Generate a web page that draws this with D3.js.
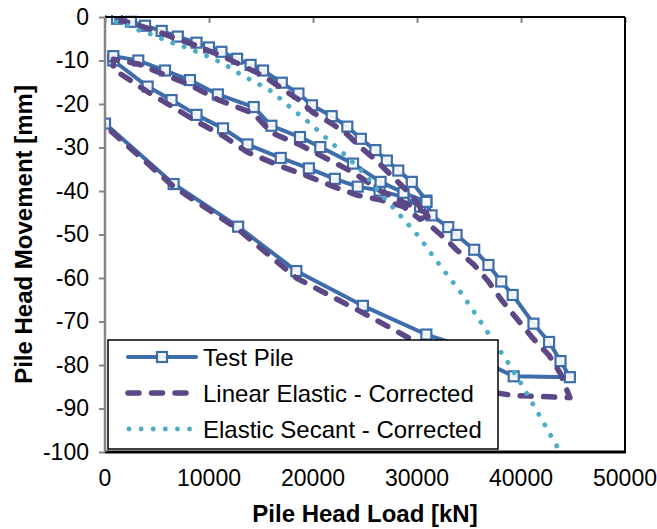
<!DOCTYPE html>
<html>
<head>
<meta charset="utf-8">
<script src="https://cdn.jsdelivr.net/npm/d3@7"></script>
<style>
  body { margin: 0; background: #fff; }
  text { font-family: 'Liberation Sans', Arial, sans-serif; fill: #000; }
</style>
</head>
<body>
<svg id="chart" width="657" height="529"></svg>
<script>
// test pile: load cycle 1, unload, reload, load to max, final unload
const testLoad = [
  1150, 2500, 3850, 5450, 7000, 8800, 10000, 11200, 12700, 14000, 15200, 17000,
  18600, 19900, 21800, 23300, 24600, 26000, 27100, 28200, 29500, 30900,
  30300, 28700, 26400, 24300, 22100, 19600, 16900, 13700, 11350, 8800, 6400, 4100, 800,
  800, 3200, 5770, 8170, 10850, 14300, 16000, 18750, 20700, 23850, 26500, 28700, 30900,
  31400, 33000, 33800, 35500, 36870, 38100, 39200, 41200, 42700, 43800, 44700,
  39300, 37200, 35800, 30900, 24800, 18400, 12800, 6600, 0
]
const testDisp = [
  -0.4, -1.1, -2.0, -3.2, -4.5, -5.9, -7.0, -8.0, -9.6, -11.0, -12.3, -15.1,
  -17.6, -20.3, -22.8, -25.2, -28.0, -30.6, -33.0, -35.3, -37.9, -42.2,
  -43.6, -41.4, -39.9, -39.0, -37.2, -34.8, -32.4, -29.3, -25.6, -22.5, -19.1, -16.0, -10.0,
  -9.0, -10.0, -12.3, -14.5, -17.8, -20.7, -25.0, -27.6, -29.9, -33.7, -37.9, -40.4, -42.5,
  -45.6, -48.3, -50.1, -53.5, -57.0, -60.8, -63.9, -70.5, -74.7, -79.1, -82.8,
  -82.6, -80.2, -76.8, -73.0, -66.4, -58.4, -48.2, -38.4, -24.5
]
// linear elastic corrected, same load steps as the test
const linearDisp = [
  -0.6, -1.4, -2.4, -3.7, -5.1, -6.6, -7.8, -8.9, -10.6, -12.1, -13.5, -16.4,
  -19.0, -21.8, -24.5, -27.0, -30.0, -32.8, -35.4, -38.0, -41.0, -45.8,
  -46.5, -43.6, -42.0, -41.0, -39.1, -36.7, -34.3, -31.1, -27.3, -24.0, -20.5, -17.2, -12.0,
  -9.7, -10.8, -13.3, -15.6, -19.0, -22.2, -26.6, -29.4, -31.8, -35.7, -40.0, -42.6, -45.0,
  -48.2, -51.6, -53.5, -57.0, -60.8, -65.0, -68.2, -74.0, -77.8, -82.0, -87.5,
  -87.0, -86.3, -82.0, -76.0, -68.0, -60.0, -48.8, -39.0, -25.0
]
const secantLoad = [
  0, 1280, 2400, 3370, 4490, 5600, 6630, 7790, 8810, 9930, 11000, 12000, 12900,
  14040, 15060, 16090, 17000, 17880, 18750, 19640, 20510, 21410, 22280, 23140,
  24040, 24840, 25580, 27080, 28680, 30220, 31570, 33010, 34450, 35740, 37020,
  38550, 39800, 41050, 42180, 43330, 43800
]
const secantDisp = [
  0, -1.3, -2.1, -3.2, -4.0, -5.1, -6.1, -7.0, -8.0, -9.1, -10.3, -11.6, -13.0,
  -14.5, -15.8, -17.2, -19.1, -20.9, -22.6, -24.3, -26.2, -28.1, -30.0, -31.8,
  -33.9, -35.8, -37.9, -42.2, -46.4, -50.6, -55.1, -59.6, -64.1, -68.7, -73.3,
  -78.7, -83.4, -88.6, -93.3, -98.2, -100
]
const xTicks = [0, 10000, 20000, 30000, 40000, 50000]
const yTicks = [0, -10, -20, -30, -40, -50, -60, -70, -80, -90, -100]
const seriesNames = ['Test Pile', 'Linear Elastic - Corrected', 'Elastic Secant - Corrected']

;(function drawChart() {
  const BLUE = '#3d6dab'
  const PURPLE = '#5c4787'
  const TEAL = '#4bacc6'
  const AXIS_GRAY = '#858585'
  const TICK_FONT = 23
  const FONT = 24

  const plot = {left: 105, right: 625, top: 17, bottom: 452}

  const svg = d3.select('#chart')

  const x = d3.scaleLinear().domain([0, 50000]).range([plot.left, plot.right])
  const y = d3.scaleLinear().domain([0, -100]).range([plot.top, plot.bottom])

  svg.append('defs').append('clipPath')
    .attr('id', 'plot-clip')
    .append('rect')
    .attr('x', plot.left)
    .attr('y', plot.top - 2)
    .attr('width', plot.right - plot.left)
    .attr('height', plot.bottom - plot.top + 3)

  // x ticks sit on the top edge (axis crosses at 0), labels at the bottom
  const xAxis = svg.append('g')
    .attr('transform', 'translate(0,' + plot.top + ')')
    .call(d3.axisBottom(x).tickValues(xTicks).tickSize(6).tickFormat(''))
  xAxis.select('.domain').remove()
  xAxis.selectAll('line').attr('stroke', AXIS_GRAY).attr('stroke-width', 2)

  svg.append('g').selectAll('text')
    .data(xTicks)
    .enter()
    .append('text')
    .attr('x', (d) => x(d))
    .attr('y', 486)
    .attr('text-anchor', 'middle')
    .style('font-size', TICK_FONT + 'px')
    .text((d) => d)

  const yAxis = svg.append('g')
    .attr('transform', 'translate(' + plot.left + ',0)')
    .call(d3.axisLeft(y).tickValues(yTicks).tickSize(6).tickPadding(10)
      .tickFormat((d) => String(d)))
  yAxis.select('.domain').remove()
  yAxis.selectAll('line').attr('stroke', AXIS_GRAY).attr('stroke-width', 2)
  yAxis.selectAll('text')
    .style('font-size', TICK_FONT + 'px')
    .style('font-family', "'Liberation Sans', Arial, sans-serif")

  // series
  const g = svg.append('g').attr('clip-path', 'url(#plot-clip)')

  const line = d3.line()
    .x((d) => x(d[0]))
    .y((d) => y(d[1]))

  const testPts = testLoad.map((d, i) => [d, testDisp[i]])
  const linearPts = testLoad.map((d, i) => [d, linearDisp[i]])
  const secantPts = secantLoad.map((d, i) => [d, secantDisp[i]])

  g.append('path')
    .attr('d', line(testPts))
    .attr('fill', 'none')
    .attr('stroke', BLUE)
    .attr('stroke-width', 4)
    .attr('stroke-linejoin', 'round')

  g.selectAll('rect.marker')
    .data(testPts)
    .enter()
    .append('rect')
    .attr('class', 'marker')
    .attr('x', (d) => x(d[0]) - 5)
    .attr('y', (d) => y(d[1]) - 5)
    .attr('width', 10)
    .attr('height', 10)
    .attr('fill', '#fff')
    .attr('fill-opacity', 0.9)
    .attr('stroke', BLUE)
    .attr('stroke-width', 2.2)

  g.append('path')
    .attr('d', line(linearPts))
    .attr('fill', 'none')
    .attr('stroke', PURPLE)
    .attr('stroke-width', 5.5)
    .attr('stroke-linecap', 'round')
    .attr('stroke-linejoin', 'round')
    .attr('stroke-dasharray', '11,12.5')

  g.append('path')
    .attr('d', line(secantPts))
    .attr('fill', 'none')
    .attr('stroke', TEAL)
    .attr('stroke-width', 4.8)
    .attr('stroke-linecap', 'round')
    .attr('stroke-dasharray', '0.1,12')

  // plot frame
  svg.append('line')
    .attr('x1', plot.left).attr('x2', plot.right)
    .attr('y1', plot.top).attr('y2', plot.top)
    .attr('stroke', '#000').attr('stroke-width', 2)
  svg.append('line')
    .attr('x1', plot.right).attr('x2', plot.right)
    .attr('y1', plot.top).attr('y2', plot.bottom)
    .attr('stroke', '#000').attr('stroke-width', 2)
  svg.append('line')
    .attr('x1', plot.left).attr('x2', plot.right + 1)
    .attr('y1', plot.bottom).attr('y2', plot.bottom)
    .attr('stroke', '#000').attr('stroke-width', 3)
  svg.append('line')
    .attr('x1', plot.left).attr('x2', plot.left)
    .attr('y1', plot.top).attr('y2', plot.bottom)
    .attr('stroke', AXIS_GRAY).attr('stroke-width', 2.5)

  // legend
  const legend = svg.append('g').attr('transform', 'translate(108,340)')
  legend.append('rect')
    .attr('width', 390)
    .attr('height', 109)
    .attr('fill', '#fff')
    .attr('stroke', '#000')
    .attr('stroke-width', 1.5)

  const rowY = [17, 53, 89]
  const rows = legend.selectAll('g.row')
    .data(seriesNames)
    .enter()
    .append('g')
    .attr('class', 'row')
    .attr('transform', (d, i) => 'translate(0,' + rowY[i] + ')')

  rows.append('text')
    .attr('x', 95)
    .attr('y', 8.5)
    .style('font-size', FONT + 'px')
    .text((d) => d)

  const sample = (sel, i) => {
    const ln = sel.append('line')
      .attr('x1', 20).attr('x2', 88)
      .attr('y1', 0).attr('y2', 0)
      .attr('fill', 'none')
    if (i === 0) {
      ln.attr('stroke', BLUE).attr('stroke-width', 4).attr('stroke-linecap', 'round')
      sel.append('rect')
        .attr('x', 49).attr('y', -5)
        .attr('width', 10).attr('height', 10)
        .attr('fill', '#fff').attr('fill-opacity', 0.9)
        .attr('stroke', BLUE).attr('stroke-width', 2.2)
    } else if (i === 1) {
      ln.attr('stroke', PURPLE).attr('stroke-width', 5.5)
        .attr('stroke-linecap', 'round').attr('stroke-dasharray', '11,12.5')
    } else {
      ln.attr('x1', 21).attr('x2', 92)
        .attr('stroke', TEAL).attr('stroke-width', 4.8)
        .attr('stroke-linecap', 'round').attr('stroke-dasharray', '0.1,12')
    }
  }
  rows.each(function (d, i) { sample(d3.select(this), i) })

  // axis titles
  svg.append('text')
    .attr('x', (plot.left + plot.right) / 2)
    .attr('y', 522)
    .attr('text-anchor', 'middle')
    .style('font-size', FONT + 'px')
    .style('font-weight', 'bold')
    .text('Pile Head Load [kN]')

  svg.append('text')
    .attr('transform', 'translate(32,' + ((plot.top + plot.bottom) / 2) + ') rotate(-90)')
    .attr('text-anchor', 'middle')
    .style('font-size', FONT + 'px')
    .style('font-weight', 'bold')
    .text('Pile Head Movement [mm]')
})()
</script>
</body>
</html>
